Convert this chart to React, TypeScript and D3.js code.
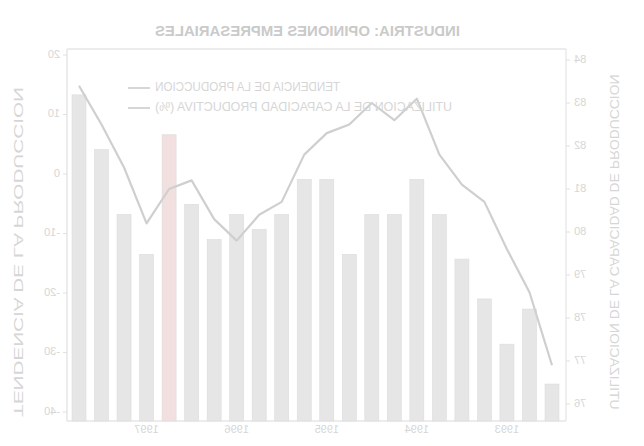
import React from "react";
import * as d3 from "d3";

const quarters: string[] = Array.from({ length: 22 }, (_, i) => `T${i + 1}`);
const barValues: number[] = [13.3, 4.1, -6.8, -13.5, 6.6, -5.1, -11, -6.8, -9.3, -6.8, -0.9, -0.9, -13.5, -6.8, -6.8, -0.9, -6.8, -14.3, -21, -28.6, -22.7, -35.3];
const lineValues: number[] = [83.4, 82.5, 81.5, 80.2, 81.0, 81.2, 80.3, 79.8, 80.4, 80.7, 81.8, 82.3, 82.5, 83.0, 82.6, 83.1, 81.8, 81.1, 80.7, 79.6, 78.6, 76.9];
const leftTicks: number[] = [20, 10, 0, -10, -20, -30, -40];
const rightTicks: number[] = [84, 83, 82, 81, 80, 79, 78, 77, 76];
const yearLabels: string[] = ["1997", "1996", "1995", "1994", "1993"];
const yearAt: number[] = [3, 7, 11, 15, 19];
const highlightIndex = 4;

const TITLE = "INDUSTRIA: OPINIONES EMPRESARIALES";
const LEG1 = "TENDENCIA DE LA PRODUCCION";
const LEG2 = "UTILIZACION DE LA CAPACIDAD PRODUCTIVA (%)";
const LEFT_LABEL = "TENDENCIA DE LA PRODUCCION";
const RIGHT_LABEL = "UTILIZACION DE LA CAPACIDAD DE PRODUCCION";

const W = 644, H = 446;
const TXT = "#d6d6d6";
const FONT = "Liberation Sans, Arial, sans-serif";

// mirrored text helper (the reference is a horizontally flipped scan)
function MText(p: { x: number; y: number; anchor?: string; size?: number; weight?: string; len?: number; children: React.ReactNode; rot?: boolean; fill?: string }) {
  const tr = p.rot
    ? `translate(${p.x},${p.y}) rotate(-90) scale(1,-1)`
    : `translate(${p.x},${p.y}) scale(-1,1)`;
  return (
    <text transform={tr} textAnchor={p.anchor || "start"} fontSize={p.size || 11} fontWeight={p.weight || "normal"}
      fill={p.fill || TXT} fontFamily={FONT} dominantBaseline="middle"
      {...(p.len ? { textLength: p.len, lengthAdjust: "spacingAndGlyphs" } : {})}>
      {p.children}
    </text>
  );
}

export default function App() {
  const left = 67, right = 566, top = 49, bottom = 421;
  const x = d3.scalePoint<string>().domain(quarters).range([79, 552]);
  const yL = d3.scaleLinear().domain([-40, 20]).range([412, 55]);
  const yR = d3.scaleLinear().domain([76, 84]).range([404, 60]);
  const bw = 14;
  const line = d3.line<number>().x((_, i) => x(quarters[i]) as number).y((d) => yR(d));

  return (
    <svg width={W} height={H} style={{ position: "absolute", left: 0, top: 0, background: "#fff" }}>
      <rect x={0} y={0} width={W} height={H} fill="#fff" />
      {/* title */}
      <MText x={460} y={32} size={14} weight="bold" len={305} fill="#cacaca">{TITLE}</MText>
      {/* frame */}
      <line x1={left} x2={right} y1={top} y2={top} stroke="#e6e6e6" strokeWidth={1.5} />
      <line x1={left} x2={left} y1={top} y2={bottom} stroke="#e6e6e6" strokeWidth={1.5} />
      <line x1={right} x2={right} y1={top} y2={bottom} stroke="#eaeaea" strokeWidth={1.5} />
      <line x1={left} x2={right} y1={bottom} y2={bottom} stroke="#e6e6e6" strokeWidth={1.5} />
      {/* bars */}
      {barValues.map((v, i) => (
        <rect key={i} x={(x(quarters[i]) as number) - bw / 2} y={yL(v)} width={bw} height={bottom - yL(v)}
          fill={i === highlightIndex ? "#f2e0e0" : "#e6e6e6"} stroke="#dcdcdc" strokeWidth={0.6} />
      ))}
      {/* line */}
      <path d={line(lineValues) || ""} fill="none" stroke="#cfcfcf" strokeWidth={2.2} strokeLinejoin="round" />
      {/* legend */}
      <line x1={128} x2={150} y1={88} y2={88} stroke="#d6d6d6" strokeWidth={2} />
      <MText x={340} y={88} size={12} len={185}>{LEG1}</MText>
      <line x1={128} x2={150} y1={108} y2={108} stroke="#d6d6d6" strokeWidth={2} />
      <MText x={452} y={108} size={12} len={297}>{LEG2}</MText>
      {/* left ticks */}
      {leftTicks.map((t) => (
        <g key={t}>
          <line x1={left - 4} x2={left} y1={yL(t)} y2={yL(t)} stroke="#e0e0e0" />
          <MText x={60} y={yL(t)} size={11}>{String(t)}</MText>
        </g>
      ))}
      {/* right ticks */}
      {rightTicks.map((t) => (
        <g key={t}>
          <line x1={right} x2={right + 4} y1={yR(t)} y2={yR(t)} stroke="#e0e0e0" />
          <MText x={574} y={yR(t)} size={11} anchor="end">{String(t)}</MText>
        </g>
      ))}
      {/* year labels */}
      {yearLabels.map((yl, i) => (
        <MText key={yl} x={x(quarters[yearAt[i]]) as number} y={430} size={11} anchor="middle">{yl}</MText>
      ))}
      {/* axis titles */}
      <MText x={17} y={252} size={13} anchor="middle" rot len={330}>{LEFT_LABEL}</MText>
      <MText x={613} y={242} size={13} anchor="middle" rot len={335}>{RIGHT_LABEL}</MText>
    </svg>
  );
}
